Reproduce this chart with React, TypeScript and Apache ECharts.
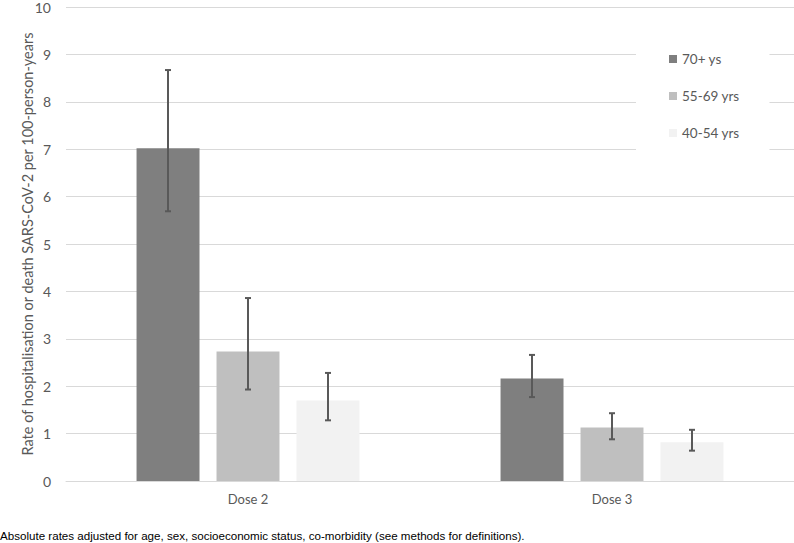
import React, { useEffect, useRef } from "react";
import * as echarts from "echarts";

const categories = ["Dose 2", "Dose 3"];
const seriesNames = ["70+ ys", "55-69 yrs", "40-54 yrs"];
const colors = ["#7f7f7f", "#bfbfbf", "#f2f2f2"];
const rates70 = [7.02, 2.16];
const rates55 = [2.73, 1.13];
const rates40 = [1.7, 0.82];
const low70 = [5.69, 1.77];
const high70 = [8.67, 2.66];
const low55 = [1.93, 0.88];
const high55 = [3.86, 1.43];
const low40 = [1.28, 0.64];
const high40 = [2.28, 1.08];
const yTicks = [0, 1, 2, 3, 4, 5, 6, 7, 8, 9, 10];
const yAxisTitle = "Rate of hospitalisation or death SARS-CoV-2 per 100-person-years";
const footnote =
  "Absolute rates adjusted for age, sex, socioeconomic status, co-morbidity (see methods for definitions).";

export default function App() {
  const ref = useRef<HTMLDivElement>(null);
  useEffect(() => {
    if (!ref.current) return;
    const chart = echarts.init(ref.current, undefined, { renderer: "svg" });
    const rates = [rates70, rates55, rates40];
    const lows = [low70, low55, low40];
    const highs = [high70, high55, high40];
    const barSeries = seriesNames.map((name, i) => ({
      name,
      type: "bar",
      data: rates[i],
      barWidth: "17.3%",
      barGap: "27%",
      itemStyle: { color: colors[i] },
      z: 2,
    }));
    const errData: number[][] = [];
    for (let s = 0; s < 3; s++) {
      for (let c = 0; c < categories.length; c++) {
        errData.push([c, lows[s][c], highs[s][c], s]);
      }
    }
    const errSeries = {
      type: "custom",
      name: "err",
      z: 5,
      data: errData,
      encode: { x: 0, y: [1, 2] },
      renderItem: (params: any, api: any) => {
        const c = api.value(0);
        const lo = api.coord([c, api.value(1)]);
        const hi = api.coord([c, api.value(2)]);
        const band = api.size([1, 0])[0];
        const s = api.value(3);
        const x = lo[0] + (s - 1) * band * 0.2198;
        const cap = 3;
        const style = { stroke: "#595959", lineWidth: 2 };
        return {
          type: "group",
          children: [
            { type: "line", shape: { x1: x, y1: lo[1], x2: x, y2: hi[1] }, style },
            { type: "line", shape: { x1: x - cap, y1: hi[1], x2: x + cap, y2: hi[1] }, style },
            { type: "line", shape: { x1: x - cap, y1: lo[1], x2: x + cap, y2: lo[1] }, style },
          ],
        };
      },
    };
    chart.setOption({
      animation: false,
      backgroundColor: "#ffffff",
      grid: { left: 66, right: 0, top: 5, bottom: 62, containLabel: false },
      legend: {
        orient: "vertical",
        left: 636,
        top: 39,
        padding: [12, 30, 12, 33],
        backgroundColor: "#ffffff",
        itemWidth: 8,
        itemHeight: 8,
        itemGap: 21,
        icon: "rect",
        data: seriesNames,
        textStyle: { fontFamily: "Lato", fontSize: 13.5, lineHeight: 16, color: "#595959" },
      },
      xAxis: {
        type: "category",
        data: categories,
        axisLine: { lineStyle: { color: "#d9d9d9", width: 1 } },
        axisTick: { show: false },
        axisLabel: { fontFamily: "Lato", fontSize: 13, color: "#595959", margin: 11 },
      },
      yAxis: {
        type: "value",
        min: yTicks[0],
        max: yTicks[yTicks.length - 1],
        interval: 1,
        name: yAxisTitle,
        nameLocation: "middle",
        nameGap: 31,
        nameMoveOverlap: false,
        nameTextStyle: { fontFamily: "Lato", fontSize: 14.5, color: "#595959" },
        axisLine: { show: false },
        axisTick: { show: false },
        axisLabel: { fontFamily: "Lato", fontSize: 14, color: "#595959", margin: 15 },
        splitLine: { lineStyle: { color: "#d9d9d9", width: 1 } },
      },
      graphic: [
        {
          type: "text",
          left: 0,
          top: 529,
          style: {
            text: footnote,
            fontFamily: "Liberation Sans",
            fontSize: 11.6,
            fill: "#000000",
          },
        },
      ],
      series: [...barSeries, errSeries],
    });
    return () => chart.dispose();
  }, []);
  return <div ref={ref} style={{ width: 794, height: 543, position: "absolute", left: 0, top: 0 }} />;
}
